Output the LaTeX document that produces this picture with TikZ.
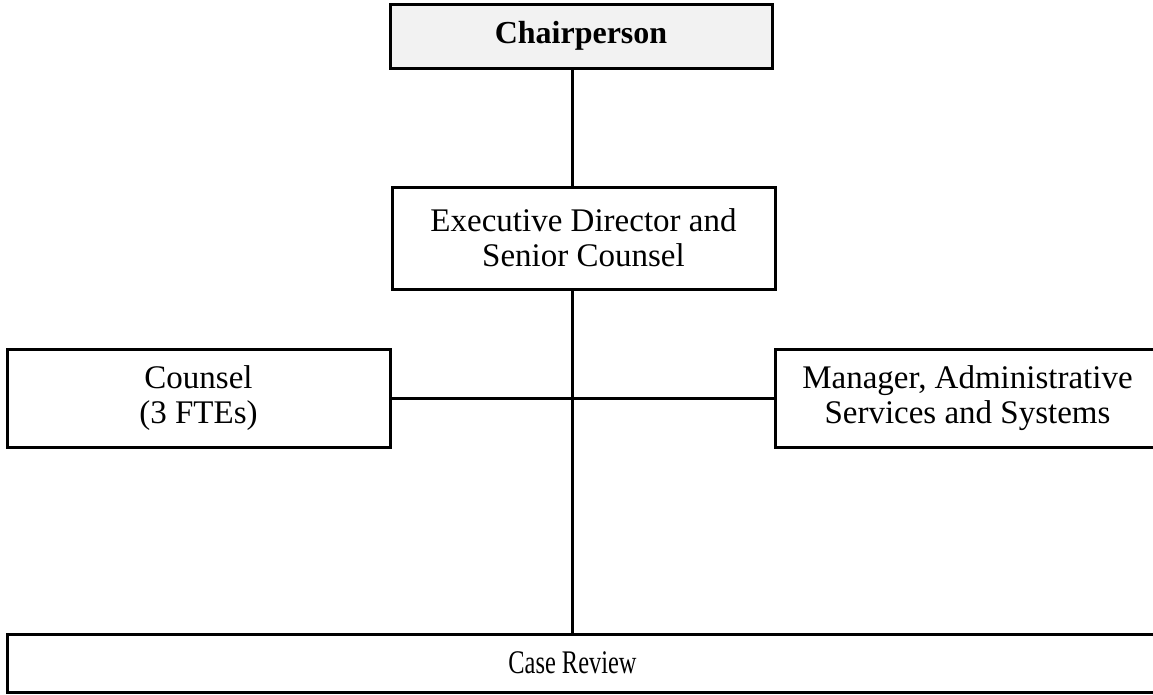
\documentclass[tikz,border=0pt]{standalone}
\usepackage{fontspec}
\usepackage{graphicx}
\setmainfont{Liberation Serif}
\begin{document}
\begin{tikzpicture}[x=1pt,y=-1pt,
  orgbox/.style={draw=black,line width=3pt,rectangle,inner sep=0pt,align=center,
    font=\fontsize{33}{35}\selectfont},
  link/.style={draw=black,line width=3pt}]
\useasboundingbox (0,0) rectangle (1153,694);
\node[orgbox,fill=black!5,minimum width=382pt,minimum height=64pt,font=\fontsize{32}{35}\selectfont\bfseries] (chair) at (581,36) {Chairperson};
\node[orgbox,minimum width=383pt,minimum height=102pt] (exec) at (583.5,238) {Executive Director and\\Senior Counsel};
\node[orgbox,minimum width=383pt,minimum height=98pt] (counsel) at (198.5,398) {Counsel\\(3 FTEs)};
\node[orgbox,minimum width=385pt,minimum height=98pt] (mgr) at (967.5,398) {Manager, Administrative\\Services and Systems};
\node[orgbox,minimum width=1153pt,minimum height=58pt] (case) at (583.5,663) {\hspace*{-22pt}\scalebox{0.74}[1]{Case Review}};
\coordinate (sp) at (572,0);
\draw[link] (chair.south -| sp) -- (exec.north -| sp);
\draw[link] (exec.south -| sp) -- (case.north -| sp);
\draw[link] (counsel.east) -- (mgr.west);
\end{tikzpicture}
\end{document}
